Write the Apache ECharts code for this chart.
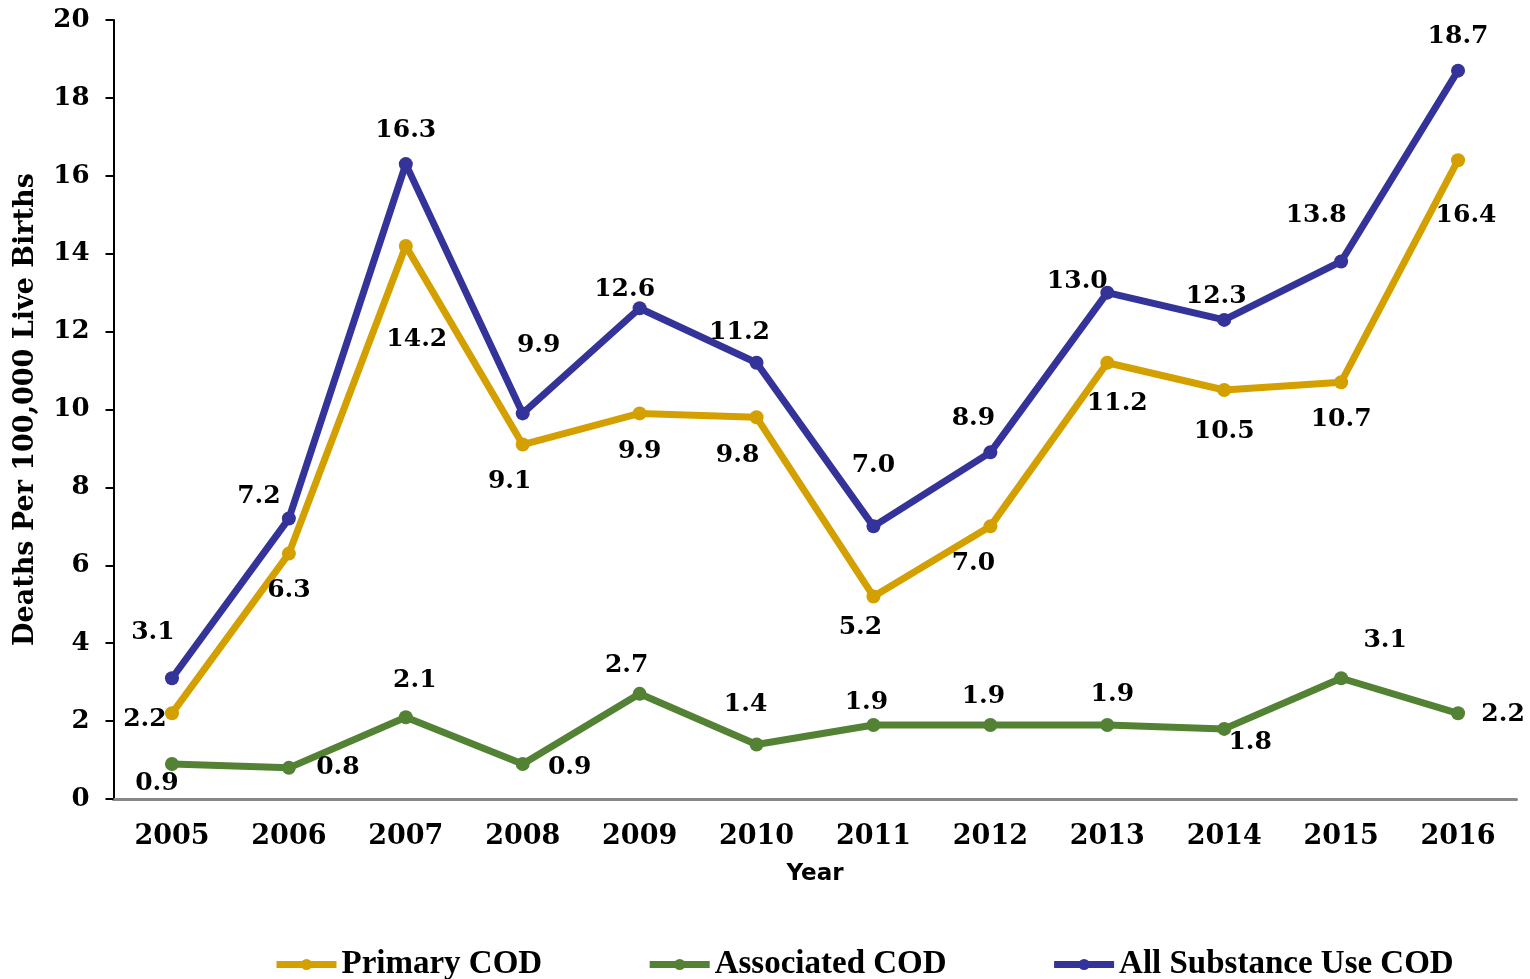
<!DOCTYPE html>
<html>
<head>
<meta charset="utf-8">
<script src="https://cdn.jsdelivr.net/npm/echarts@6/dist/echarts.min.js"></script>
<style>
  html, body { margin: 0; padding: 0; background: #fff; }
  #chart { width: 1530px; height: 979px; }
</style>
</head>
<body>
<div id="chart"></div>
<script>
const years = ['2005', '2006', '2007', '2008', '2009', '2010', '2011', '2012', '2013', '2014', '2015', '2016']
const primaryCod = [2.2, 6.3, 14.2, 9.1, 9.9, 9.8, 5.2, 7.0, 11.2, 10.5, 10.7, 16.4]
const associatedCod = [0.9, 0.8, 2.1, 0.9, 2.7, 1.4, 1.9, 1.9, 1.9, 1.8, 3.1, 2.2]
const allSubstanceCod = [3.1, 7.2, 16.3, 9.9, 12.6, 11.2, 7.0, 8.9, 13.0, 12.3, 13.8, 18.7]

// label nudges per point, so labels sit where they do in the original
const primaryOffsets = [[-27, 6], [0, 37], [11, 94], [-13, 37], [0, 38], [-19, 38], [-13, 31], [-17, 37], [10, 41], [0, 41], [0, 37], [8, 55]]
const associatedOffsets = [[-15, 20], [49, 0], [9, -37], [47, 4], [-13, -28], [-11, -40], [-7, -22], [-7, -28], [5, -30], [26, 14], [44, -38], [45, 1]]
const allOffsets = [[-19, -46], [-30, -22], [0, -34], [16, -68], [-15, -19], [-17, -30], [0, -61], [-17, -34], [-30, -11], [-8, -23], [-25, -46], [0, -34]]

const serif = '"DejaVu Serif", Georgia, serif'

function withLabels(values, offsets) {
  return values.map((v, i) => ({
    value: v,
    label: { offset: offsets[i] },
  }))
}

function makeSeries(name, values, offsets, color) {
  return {
    name,
    type: 'line',
    data: withLabels(values, offsets),
    symbol: 'circle',
    symbolSize: 14,
    lineStyle: { width: 7, color },
    itemStyle: { color },
    label: {
      show: true,
      position: 'inside',
      fontFamily: serif,
      fontWeight: 'bold',
      fontSize: 25,
      color: '#000',
      formatter: (p) => p.value.toFixed(1),
    },
    emphasis: { disabled: true },
    z: 3,
  }
}

const chart = echarts.init(document.getElementById('chart'), null, { renderer: 'canvas' })

chart.setOption({
  backgroundColor: '#fff',
  animation: false,
  grid: { left: 113.5, right: 13.5, top: 20, bottom: 180, containLabel: false, outerBoundsMode: 'none' },
  legend: {
    bottom: -7,
    left: 268,
    itemWidth: 60,
    itemHeight: 14,
    itemGap: 104,
    lineStyle: { width: 7 },
    textStyle: {
      fontFamily: '"Liberation Serif", serif',
      fontWeight: 'bold',
      fontSize: 33,
      color: '#000',
    },
    data: ['Primary COD', 'Associated COD', 'All Substance Use COD'],
  },
  xAxis: {
    type: 'category',
    data: years,
    boundaryGap: true,
    name: 'Year',
    nameLocation: 'middle',
    nameGap: 64,
    nameTextStyle: {
      fontFamily: '"DejaVu Sans", Verdana, sans-serif',
      fontWeight: 'bold',
      fontSize: 23,
      color: '#000',
    },
    axisLine: { lineStyle: { color: '#888', width: 3 } },
    axisTick: { show: false },
    axisLabel: {
      margin: 24,
      fontFamily: serif,
      fontWeight: 'bold',
      fontSize: 27,
      color: '#000',
    },
  },
  yAxis: {
    type: 'value',
    min: 0,
    max: 20,
    interval: 2,
    name: 'Deaths Per 100,000 Live Births',
    nameLocation: 'middle',
    nameGap: 74,
    nameTextStyle: {
      fontFamily: serif,
      fontWeight: 'bold',
      fontSize: 27,
      color: '#000',
    },
    axisLine: { show: true, lineStyle: { color: '#000', width: 2 } },
    axisTick: { show: true, length: 8, lineStyle: { color: '#000', width: 2 } },
    splitLine: { show: false },
    axisLabel: {
      margin: 24,
      fontFamily: serif,
      fontWeight: 'bold',
      fontSize: 26,
      color: '#000',
    },
  },
  series: [
    makeSeries('Primary COD', primaryCod, primaryOffsets, '#D4A000'),
    makeSeries('Associated COD', associatedCod, associatedOffsets, '#548235'),
    makeSeries('All Substance Use COD', allSubstanceCod, allOffsets, '#333399'),
  ],
})

window.addEventListener('resize', () => chart.resize())
</script>
</body>
</html>
